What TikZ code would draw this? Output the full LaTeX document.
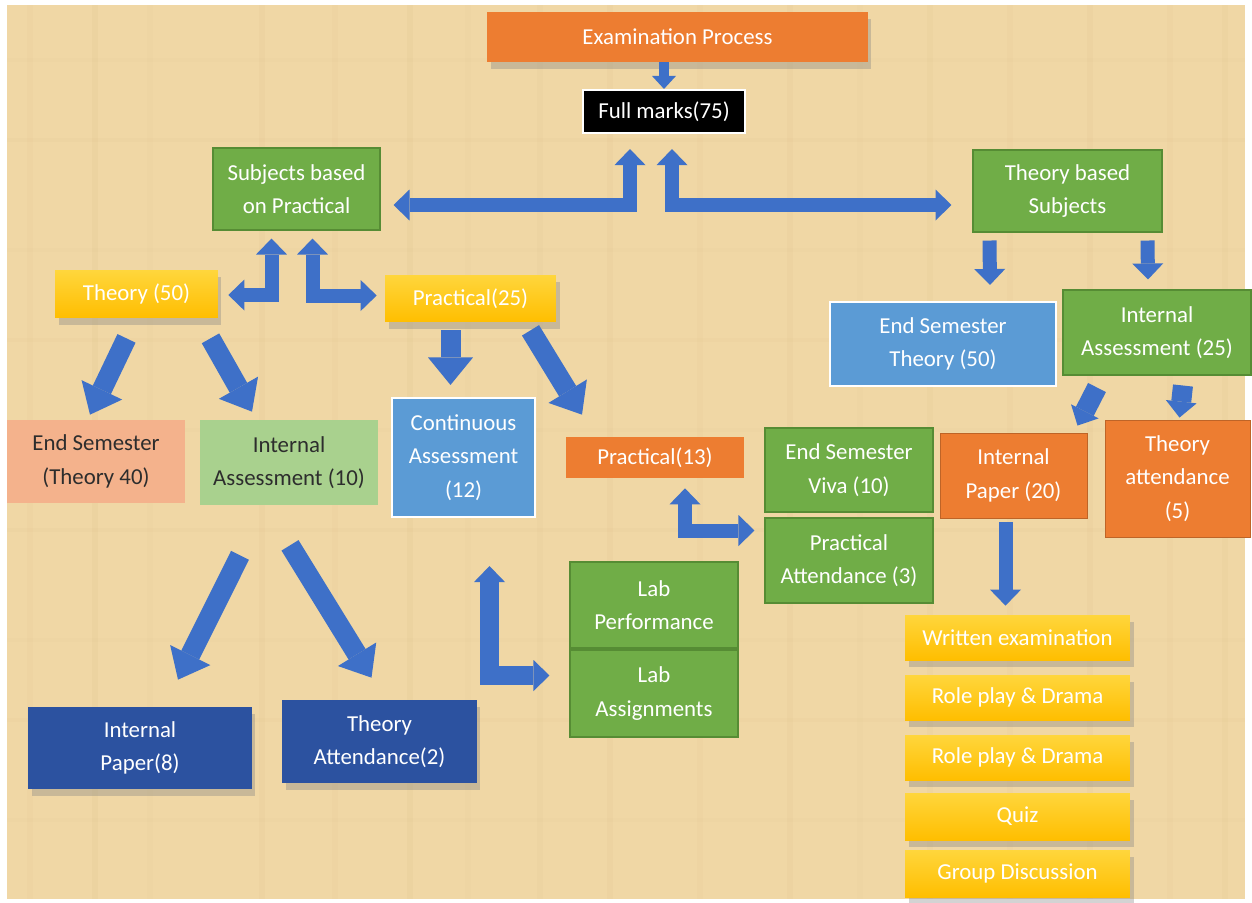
\documentclass[tikz,border=0pt]{standalone}
\usepackage{fontspec}
\setmainfont{Carlito}
\usetikzlibrary{arrows.meta,calc,shadows}
% Farben (ungefaehr)
\definecolor{hintergrund}{RGB}{240,215,165}
\definecolor{maserung}{RGB}{205,175,120}
\definecolor{orangekasten}{RGB}{237,125,49}
\definecolor{gruenkasten}{RGB}{112,173,71}
\definecolor{gruenrand}{RGB}{86,140,52}
\definecolor{goldkasten}{RGB}{255,190,0}
\definecolor{goldhell}{RGB}{255,214,60}
\definecolor{blaukasten}{RGB}{91,155,213}
\definecolor{dunkelblau}{RGB}{44,82,160}
\definecolor{lachs}{RGB}{244,178,140}
\definecolor{hellgruen}{RGB}{169,209,142}
\definecolor{pfeilblau}{RGB}{62,112,200}
\definecolor{textdunkel}{RGB}{45,45,45}
\tikzset{
  kasten/.style={rectangle, align=center, inner sep=2pt, text=white,
    font=\fontsize{13}{19}\selectfont},
  gruen/.style={kasten, fill=gruenkasten, draw=gruenrand, line width=0.6pt},
  gold/.style={kasten, top color=goldhell, bottom color=goldkasten, draw=none},
  schatten/.style={drop shadow={opacity=0.35, shadow xshift=2pt, shadow yshift=-4pt}},
  pfeil/.style={draw=pfeilblau, line width=0.28cm,
    -{Triangle[width=0.62cm,length=0.32cm,line width=0pt]}},
  doppelpfeil/.style={draw=pfeilblau, line width=0.28cm,
    {Triangle[width=0.62cm,length=0.32cm,line width=0pt]}-{Triangle[width=0.62cm,length=0.32cm,line width=0pt]}},
  breitpfeil/.style={draw=pfeilblau, line width=0.4cm,
    -{Triangle[width=0.9cm,length=0.55cm,line width=0pt]}},
  kleinpfeil/.style={draw=pfeilblau, line width=0.2cm,
    -{Triangle[width=0.48cm,length=0.26cm,line width=0pt]}},
}
\begin{document}
\begin{tikzpicture}[x=0.02cm,y=-0.02cm]
    % Bildgroesse wie im Original (1252 x 903 Pixel):
    \useasboundingbox (0,0) rectangle (1252,903);
    % Der Hintergrund ist ein beiges Papier mit feiner Maserung.
    \fill[hintergrund] (7,5) rectangle (1245,899);
    \foreach \x/\o in {30/0.05,95/0.09,150/0.04,262/0.08,335/0.05,410/0.09,468/0.04,
                        540/0.06,610/0.08,700/0.05,790/0.08,860/0.04,930/0.07,
                        1010/0.05,1090/0.08,1170/0.05,1225/0.07}
        \draw[maserung, opacity=\o, line width=3pt] (\x,5) -- (\x,899);
    \foreach \y/\o in {60/0.04,140/0.06,250/0.04,340/0.05,430/0.04,530/0.06,
                        640/0.04,720/0.05,820/0.04}
        \draw[maserung, opacity=\o, line width=2pt] (7,\y) -- (1245,\y);

    % Oberste Ebene
    \node[kasten, fill=orangekasten, minimum width=7.62cm, minimum height=1cm, schatten]
        (pruefung) at (677.5,37) {Examination Process};
    \node[kasten, fill=black, draw=white, line width=1.2pt, minimum width=3.24cm, minimum height=0.86cm]
        (voll) at (664,111.5) {Full marks(75)};
    \node[gruen, minimum width=3.34cm, minimum height=1.64cm]
        (praxisfach) at (296.5,189) {Subjects based\\on Practical};
    \node[gruen, minimum width=3.78cm, minimum height=1.64cm]
        (theoriefach) at (1067.5,191) {Theory based\\Subjects};

    % Linke Seite: Faecher mit Praxis
    \node[gold, minimum width=3.26cm, minimum height=0.96cm, schatten]
        (theorie) at (136.5,294) {Theory (50)};
    \node[gold, minimum width=3.42cm, minimum height=0.94cm, schatten]
        (praxis) at (470.5,298.5) {Practical(25)};
    \node[kasten, fill=lachs, text=textdunkel, minimum width=3.56cm, minimum height=1.66cm]
        (endsem) at (96,461.5) {End Semester\\(Theory 40)};
    \node[kasten, fill=hellgruen, text=textdunkel, minimum width=3.56cm, minimum height=1.7cm]
        (intern) at (289,462.5) {Internal\\Assessment (10)};
    \node[kasten, fill=blaukasten, draw=white, line width=1.2pt, minimum width=2.86cm, minimum height=2.38cm]
        (laufend) at (463.5,457.5) {Continuous\\Assessment\\(12)};
    \node[kasten, fill=orangekasten, minimum width=3.56cm, minimum height=0.82cm]
        (praxisdreizehn) at (655,457.5) {Practical(13)};
    \node[gruen, minimum width=3.36cm, minimum height=1.68cm]
        (viva) at (849,470) {End Semester\\Viva (10)};
    \node[gruen, minimum width=3.36cm, minimum height=1.7cm]
        (anwesenheit) at (849,560.5) {Practical\\Attendance (3)};
    \node[gruen, minimum width=3.36cm, minimum height=1.72cm]
        (lableistung) at (654,605) {Lab\\Performance};
    \node[gruen, minimum width=3.36cm, minimum height=1.74cm]
        (labaufgabe) at (654,693.5) {Lab\\Assignments};
    \node[kasten, fill=dunkelblau, minimum width=4.48cm, minimum height=1.64cm, schatten]
        (papieracht) at (140,748) {Internal\\Paper(8)};
    \node[kasten, fill=dunkelblau, minimum width=3.9cm, minimum height=1.66cm, schatten]
        (theorieanw) at (379.5,741.5) {Theory\\Attendance(2)};

    % Rechte Seite: reine Theoriefaecher
    \node[kasten, fill=blaukasten, draw=white, line width=1.2pt, minimum width=4.52cm, minimum height=1.68cm]
        (endtheorie) at (943,344) {End Semester\\Theory (50)};
    \node[gruen, minimum width=3.76cm, minimum height=1.7cm]
        (interntheorie) at (1157,332.5) {Internal\\Assessment (25)};
    \node[kasten, fill=orangekasten, draw=orangekasten!80!black, line width=0.5pt, minimum width=2.94cm, minimum height=1.7cm]
        (papierzwanzig) at (1013.5,475.5) {Internal\\Paper (20)};
    \node[kasten, fill=orangekasten, draw=orangekasten!80!black, line width=0.5pt, minimum width=2.9cm, minimum height=2.34cm]
        (theorieanwfuenf) at (1177.5,478.5) {Theory\\attendance\\(5)};
    % Die gelbe Liste unten rechts
    \node[gold, minimum width=4.5cm, minimum height=0.9cm, schatten] (schriftlich) at (1017.5,637.5) {Written examination};
    \node[gold, minimum width=4.5cm, minimum height=0.9cm, schatten] (rolleeins) at (1017.5,697.5) {Role play \& Drama};
    \node[gold, minimum width=4.5cm, minimum height=0.9cm, schatten] (rollezwei) at (1017.5,757.5) {Role play \& Drama};
    \node[gold, minimum width=4.5cm, minimum height=0.94cm, schatten] (quiz) at (1017.5,816.5) {Quiz};
    \node[gold, minimum width=4.5cm, minimum height=0.94cm, schatten] (gruppe) at (1017.5,873.5) {Group Discussion};

    % Pfeile oben
    \draw[kleinpfeil] (pruefung.south -| voll.north) -- (voll.north);
    \draw[doppelpfeil] ($(voll.south)+(-34,15)$) |- ($(praxisfach.east)+(13,16)$);
    \draw[doppelpfeil] ($(voll.south)+(8,15)$) |- ($(theoriefach.west)+(-21,14)$);
    \draw[doppelpfeil] ($(praxisfach.south)+(-25,8)$) |- ($(theorie.east)+(10,1)$);
    \draw[doppelpfeil] ($(praxisfach.south)+(16,8)$) |- ($(praxis.west)+(-8,-3)$);
    \draw[pfeil] ($(theoriefach.south)+(-78,8)$) -- ($(endtheorie.north)+(47,-16)$);
    \draw[pfeil] ($(theoriefach.south)+(80,8)$) -- ($(interntheorie.north)+(-9,-10)$);

    % Pfeile links
    \draw[breitpfeil] ($(theorie.south)+(-10,20)$) -- ($(endsem.north)+(-6,-5)$);
    \draw[breitpfeil] ($(theorie.south)+(74,20)$) -- ($(intern.north)+(-37,-8)$);
    \draw[breitpfeil] ($(praxis.south)+(-20,8)$) -- ($(laufend.north)+(-13,-12)$);
    \draw[breitpfeil] ($(praxis.south)+(60,8)$) -- ($(praxisdreizehn.north)+(-73,-22)$);
    \draw[breitpfeil] ($(intern.south)+(-49,50)$) -- ($(papieracht.north)+(38,-27)$);
    \draw[breitpfeil] ($(intern.south)+(1,40)$) -- ($(theorieanw.north)+(-8,-22)$);
    \draw[doppelpfeil, line width=0.38cm] ($(laufend.south)+(26,48)$) |- ($(labaufgabe.west)+(-20,-18)$);
    \draw[doppelpfeil] ($(praxisdreizehn.south)+(30,10)$) |- ($(anwesenheit.west)+(-10,-30)$);

    % Pfeile rechts
    \draw[pfeil, line width=0.4cm] ($(interntheorie.south)+(-60,12)$) -- ($(papierzwanzig.north)+(64,-7)$);
    \draw[pfeil, line width=0.4cm] ($(interntheorie.south)+(26,10)$) -- ($(theorieanwfuenf.north)+(2,-2)$);
    \draw[pfeil] ($(papierzwanzig.south)+(-8,4)$) -- ($(schriftlich.north)+(-12,-9)$);
\end{tikzpicture}
\end{document}
